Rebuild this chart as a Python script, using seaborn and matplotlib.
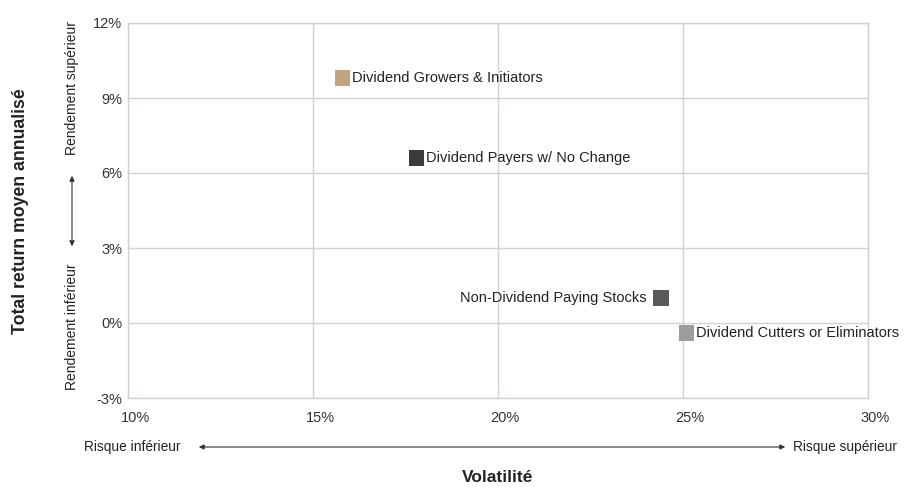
import pandas as pd
import matplotlib.pyplot as plt
import matplotlib.ticker as mticker
import matplotlib.transforms as mtransforms
from matplotlib.patches import FancyArrowPatch
import seaborn as sns

# ── Data ─────────────────────────────────────────────────────
categories = ["Dividend Growers & Initiators", "Dividend Payers w/ No Change",
              "Non-Dividend Paying Stocks", "Dividend Cutters or Eliminators"]
volatility = [15.8, 17.8, 24.4, 25.1]
returns    = [9.8, 6.6, 1.0, -0.4]
colors     = ["#C4A47C", "#3C3C3C", "#595959", "#9C9C9C"]
label_side = ["right", "right", "left", "right"]

x_ticks = [10, 15, 20, 25, 30]
y_ticks = [-3, 0, 3, 6, 9, 12]

df = pd.DataFrame({"Category": categories, "Volatility": volatility, "Return": returns})

# ── Style ────────────────────────────────────────────────────
sns.set_theme(style="white")
plt.rcParams["font.family"] = ["Liberation Sans", "DejaVu Sans"]

GRID = "#D6D0D0"
TXT = "#222222"

fig = plt.figure(figsize=(9.1, 4.88), dpi=100)
ax = fig.add_axes([128 / 910, 1 - 398 / 488, 740 / 910, 375 / 488])

sns.scatterplot(data=df, x="Volatility", y="Return", hue="Category",
                palette=colors, marker="s", s=125, linewidth=0,
                legend=False, ax=ax, zorder=3)

for cat, xv, yv, side in zip(categories, volatility, returns, label_side):
    if side == "right":
        ax.annotate(cat, (xv, yv), xytext=(7, 0), textcoords="offset points",
                    ha="left", va="center", fontsize=10.5, color=TXT)
    else:
        ax.annotate(cat, (xv, yv), xytext=(-10, 0), textcoords="offset points",
                    ha="right", va="center", fontsize=10.5, color=TXT)

ax.set_xlim(10, 30)
ax.set_ylim(-3, 12)
ax.set_xticks(x_ticks)
ax.set_yticks(y_ticks)
ax.xaxis.set_major_formatter(mticker.FormatStrFormatter("%d%%"))
ax.yaxis.set_major_formatter(mticker.FormatStrFormatter("%d%%"))
ax.tick_params(axis="x", labelsize=10.5, labelcolor="#333333", length=0, pad=9)
ax.tick_params(axis="y", labelsize=10.5, labelcolor="#333333", length=3,
               color=GRID, pad=1)
# labels in the reference sit a little right of their gridline
shift = mtransforms.ScaledTranslation(0.07, 0, fig.dpi_scale_trans)
for lbl in ax.get_xticklabels():
    lbl.set_transform(lbl.get_transform() + shift)

ax.grid(True, color=GRID, linewidth=1)
ax.set_axisbelow(True)
for side in ["left", "bottom", "top", "right"]:
    ax.spines[side].set_color(GRID)
    ax.spines[side].set_linewidth(1)
ax.set_xlabel("")
ax.set_ylabel("")

# ── Axis annotations (risk / return) ─────────────────────────
def fx(px):
    return px / 910

def fy(py):
    return 1 - py / 488

fig.text(fx(181), fy(447), "Risque inférieur", ha="right", va="center",
         fontsize=9.9, color=TXT)
fig.text(fx(793), fy(447), "Risque supérieur", ha="left", va="center",
         fontsize=9.9, color=TXT)
fig.patches.append(FancyArrowPatch(
    (fx(196), fy(447)), (fx(788), fy(447)), transform=fig.transFigure,
    arrowstyle="<|-|>,head_length=3,head_width=1.5", color="#333333", lw=0.8))
fig.text(fx(498), fy(478), "Volatilité", ha="center", va="center",
         fontsize=12.5, fontweight="bold", color=TXT)

fig.text(fx(21), fy(211), "Total return moyen annualisé", ha="center", va="center",
         rotation=90, fontsize=12.7, fontweight="bold", color=TXT)
fig.text(fx(72), fy(88), "Rendement supérieur", ha="center", va="center",
         rotation=90, fontsize=10, color=TXT)
fig.text(fx(72), fy(327), "Rendement inférieur", ha="center", va="center",
         rotation=90, fontsize=10, color=TXT)
fig.patches.append(FancyArrowPatch(
    (fx(72), fy(173)), (fx(72), fy(249)), transform=fig.transFigure,
    arrowstyle="<|-|>,head_length=3,head_width=1.5", color="#333333", lw=0.8))

fig.savefig("out.png", dpi=100)
